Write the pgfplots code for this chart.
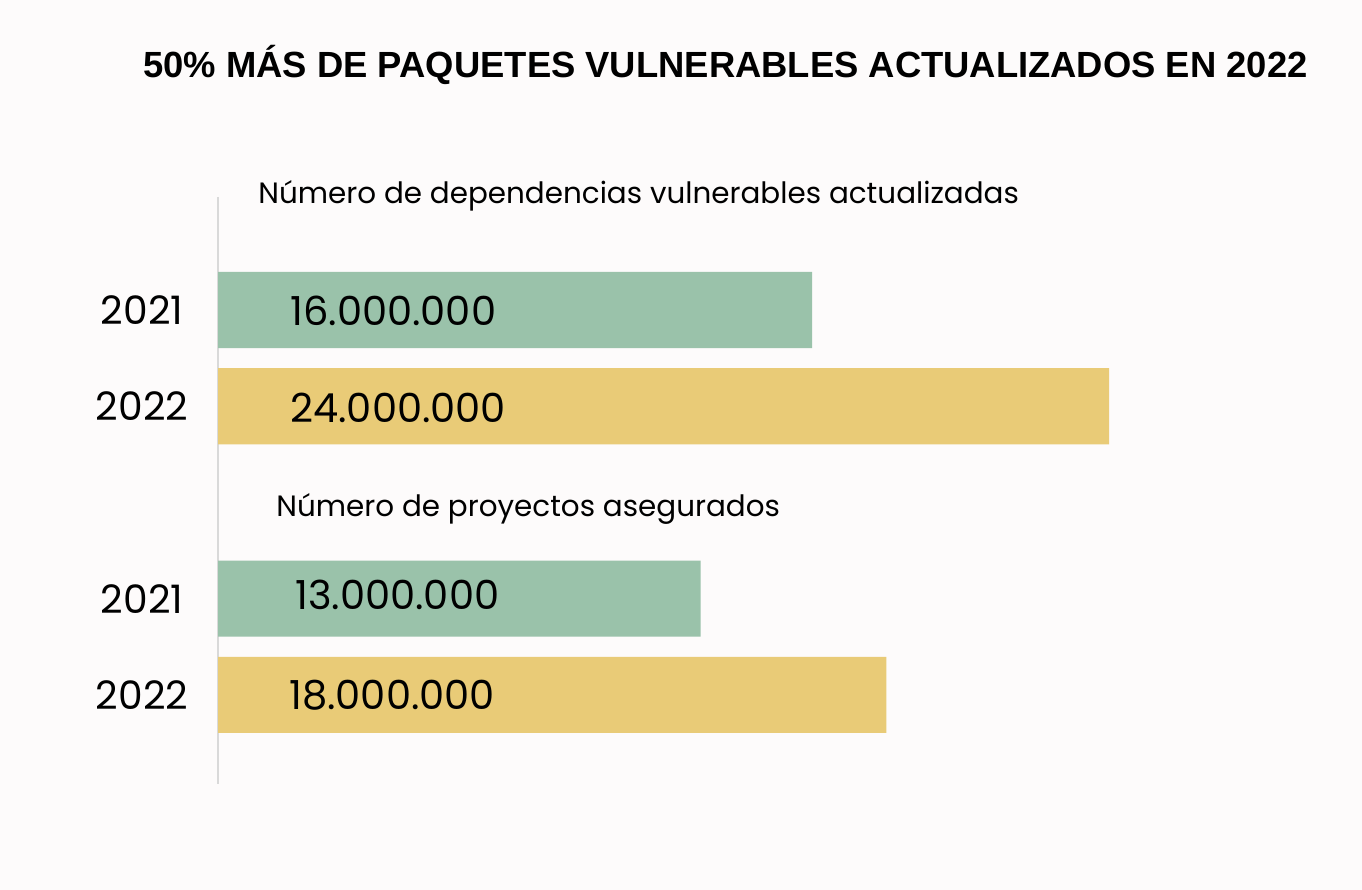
\documentclass[border=0pt]{standalone}
\usepackage{pgfplots}
\pgfplotsset{compat=1.18}
\usepackage{fontspec}
\setmainfont{Poppins}
\newfontfamily\titlefont{Liberation Sans}
\definecolor{bg}{HTML}{FDFBFB}
\definecolor{verde}{HTML}{9AC2AA}
\definecolor{amarillo}{HTML}{E9CB77}
\definecolor{eje}{HTML}{D9D9D9}
\begin{document}
\begin{tikzpicture}
  % page = 1362 x 890 px, 1 px = 0.5pt
  \fill[bg] (0,0) rectangle (681pt,445pt);
  \useasboundingbox (0,0) rectangle (681pt,445pt);
  \begin{axis}[
    at={(109pt,53pt)}, anchor=south west,
    scale only axis,
    width=557pt, height=293.5pt,
    xbar, bar shift=0pt, bar width=0.79,
    xmin=0, xmax=30,
    ymin=-1.174, ymax=4.925, y dir=reverse,
    axis x line=none,
    axis y line*=left,
    y axis line style={draw=eje, line width=0.75pt, -},
    ytick={0,1,3,4},
    yticklabels={2021,2022,2021,2022},
    major tick length=0pt,
    yticklabel style={anchor=center, xshift=-38pt, font=\fontsize{19.6}{24}\selectfont},
  ]
    \addplot[draw=none, fill=verde] coordinates {(16,0) (13,3)};
    \addplot[draw=none, fill=amarillo] coordinates {(24,1) (18,4)};
  \end{axis}
  \node[anchor=base west, inner sep=0pt, font=\titlefont\bfseries\fontsize{18.2}{22}\selectfont]
    at (71.5pt,406pt) {50\% MÁS DE PAQUETES VULNERABLES ACTUALIZADOS EN 2022};
  \node[anchor=base west, inner sep=0pt, font=\fontsize{14.7}{17}\selectfont]
    at (129pt,343pt) {Número de dependencias vulnerables actualizadas};
  \node[anchor=base west, inner sep=0pt, font=\fontsize{14.7}{17}\selectfont]
    at (138pt,186.5pt) {Número de proyectos asegurados};
  \begin{scope}[every node/.style={anchor=base west, inner sep=0pt, font=\fontsize{20}{24}\selectfont}]
    \node at (145pt,282pt) {16.000.000};
    \node at (145pt,233.5pt) {24.000.000};
    \node at (147.5pt,140pt) {13.000.000};
    \node at (144.5pt,90pt) {18.000.000};
  \end{scope}
\end{tikzpicture}
\end{document}
